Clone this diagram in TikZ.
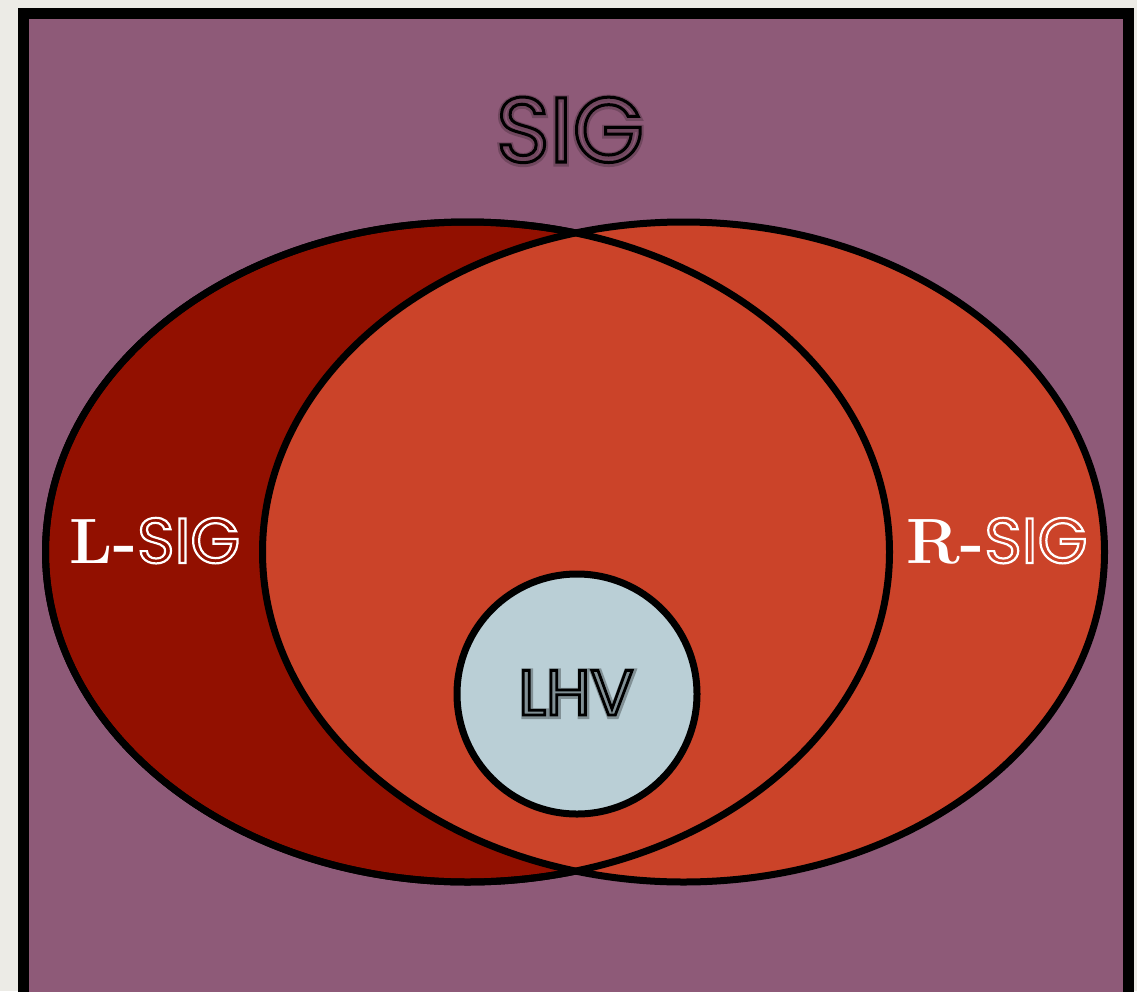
\documentclass[tikz,border=0pt]{standalone}
\usepackage{fontspec}
\usetikzlibrary{shapes.geometric}
\newfontfamily\outfont{Poppins}
\newcommand{\hollowtext}[2]{\special{pdf:literal direct 1 Tr #1 w}#2\special{pdf:literal direct 0 Tr 1 w}}
\definecolor{bgpaper}{HTML}{ECEBE6}
\definecolor{sigpurple}{HTML}{8E5A78}
\definecolor{darkred}{HTML}{921000}
\definecolor{brick}{HTML}{CB4329}
\definecolor{lhvblue}{HTML}{BACFD6}
\tikzset{
  setline/.style={draw=black, line width=7pt},
  setlabel/.style={anchor=base, inner sep=0pt},
}
\begin{document}
\begin{tikzpicture}[x=1pt,y=-1pt]
\useasboundingbox (0,0) rectangle (1137,991);
\fill[bgpaper] (0,0) rectangle (1137,991);
\draw[line width=11pt, fill=sigpurple] (23.5,13.5) rectangle (1128.5,1000);
% sets
\node[ellipse, setline, fill=darkred, minimum width=844pt, minimum height=660pt, inner sep=0pt] (L) at (467.5,552) {};
\node[ellipse, setline, fill=brick, minimum width=842pt, minimum height=660pt, inner sep=0pt] (R) at (683.5,552) {};
\node[ellipse, setline, minimum width=844pt, minimum height=660pt, inner sep=0pt] (L2) at (467.5,552) {};
\node[circle, setline, fill=lhvblue, minimum size=240pt, inner sep=0pt] (C) at (577,694) {};
% labels
\node[setlabel, text=black!60!sigpurple, text opacity=0.35, font=\outfont\fontsize{92}{96}\selectfont] at (570,163) {\hollowtext{7}{SIG}};
\node[setlabel, text=black, font=\outfont\fontsize{92}{96}\selectfont] (sig) at (570,162) {\hollowtext{3}{SIG}};
\node[setlabel, text=black, text opacity=0.3, font=\outfont\fontsize{64}{68}\selectfont] at (577,716) {\hollowtext{6}{LHV}};
\node[setlabel, text=black, font=\outfont\fontsize{64}{68}\selectfont] (lhv) at (576,715) {\hollowtext{2.8}{LHV}};
\node[setlabel, text=white, font=\fontsize{64}{68}\selectfont] (lsig) at (155,563) {\textbf{L-}{\outfont\hollowtext{2.2}{SIG}}};
\node[setlabel, text=white, font=\fontsize{64}{68}\selectfont] (rsig) at (997,563) {\textbf{R-}{\outfont\hollowtext{2.2}{SIG}}};
\end{tikzpicture}
\end{document}
